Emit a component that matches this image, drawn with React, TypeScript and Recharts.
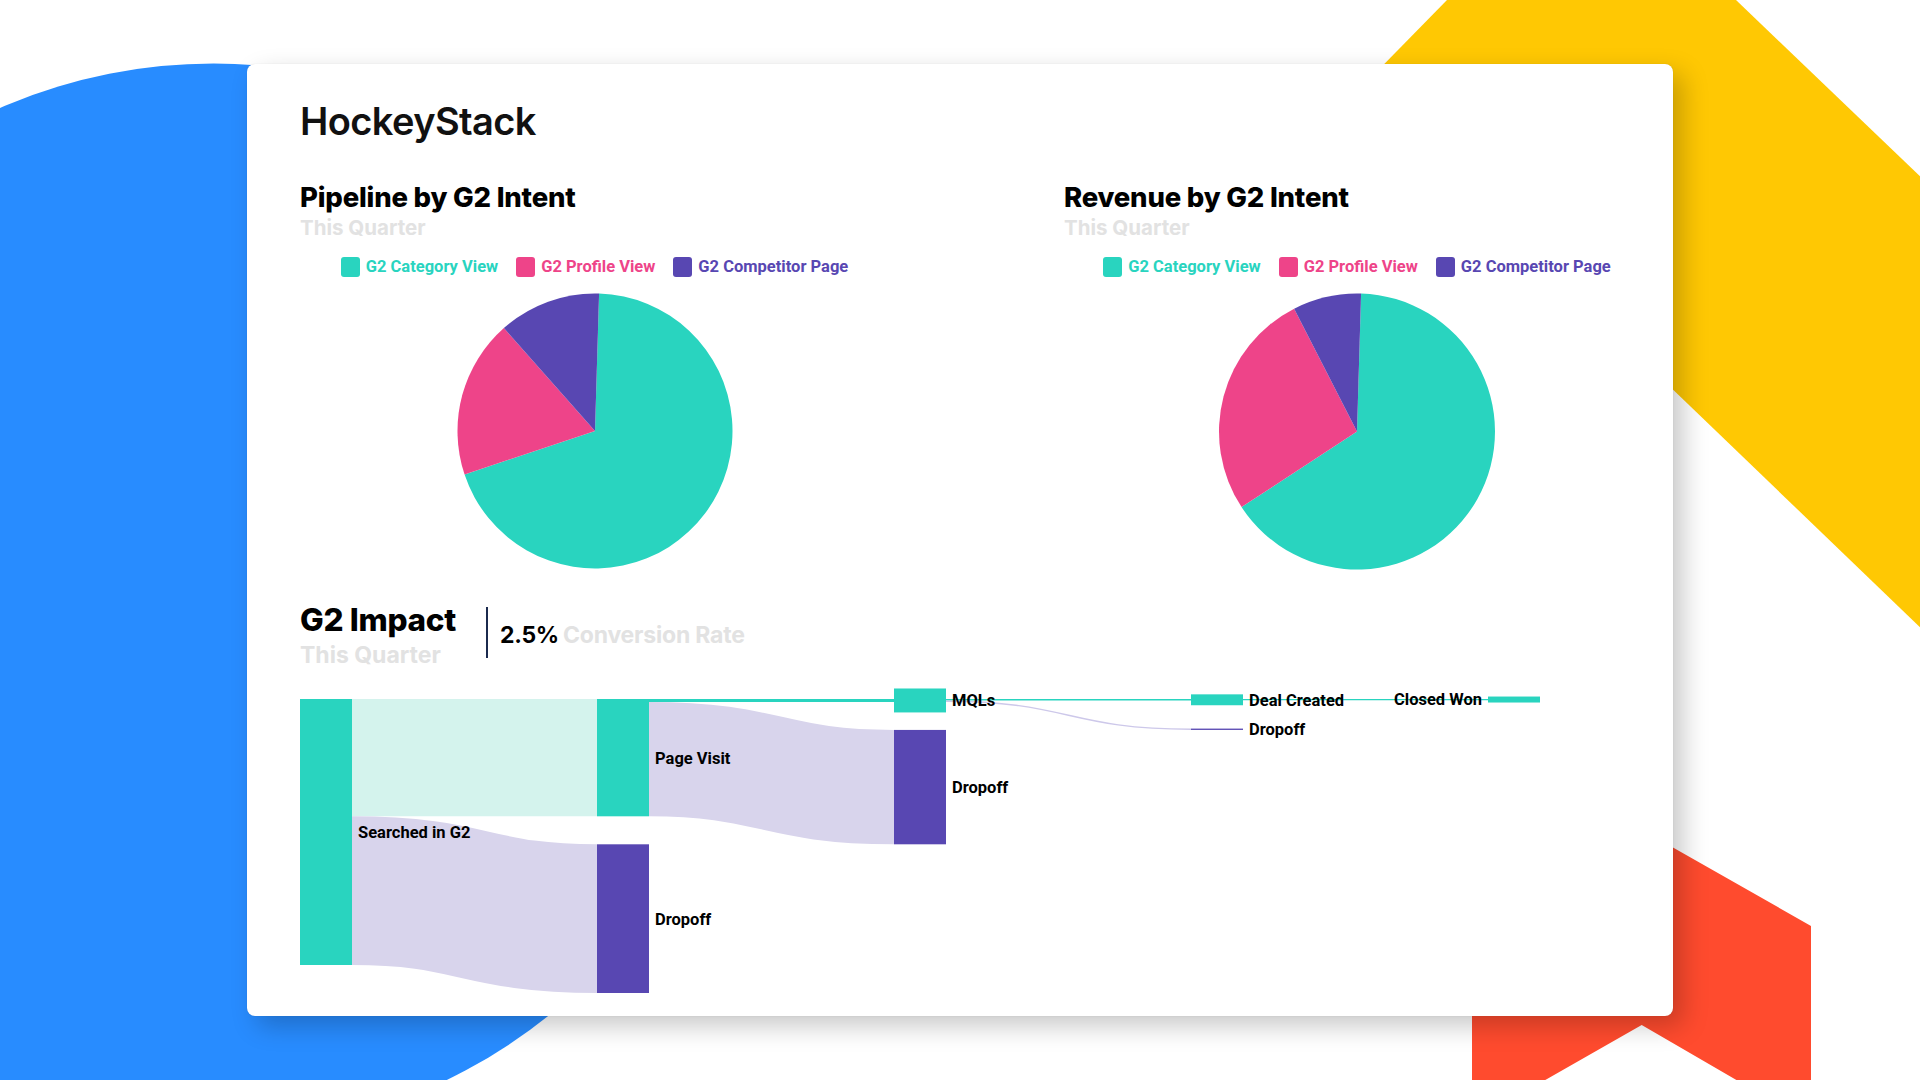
import React from 'react';
import { PieChart, Pie, Cell, Legend, Sankey } from 'recharts';

// ---------- data ----------
const PIE_CATEGORIES = ['G2 Category View', 'G2 Profile View', 'G2 Competitor Page'];
const PIPELINE_VALUES = [69.4, 18.6, 12.0];
const REVENUE_VALUES = [65.3, 26.7, 8.0];

const SANKEY_NODE_NAMES = ['Searched in G2', 'Page Visit', 'Dropoff', 'MQLs', 'Dropoff', 'Deal Created', 'Dropoff', 'Closed Won'];
// displayed node sizes (in the same units as flows)
const SANKEY_NODE_SIZES = [1000, 441, 559, 90, 430, 41, 0, 22.5];
const LINK_SOURCES = [0, 0, 1, 1, 3, 3, 5];
const LINK_TARGETS = [1, 2, 3, 4, 5, 6, 7];
const LINK_VALUES = [441, 559, 11, 430, 6, 5, 4];
const CONVERSION_RATE = '2.5%';

// ---------- styles ----------
const TEAL = '#29d4bf';
const PINK = '#ee4489';
const PURPLE = '#5847b2';
const LIGHT_TEAL = '#d4f3ed';
const LAVENDER = '#d8d4ec';
const GREY_TEXT = '#e2e2e2';
const PIE_COLORS = [TEAL, PINK, PURPLE];
const NODE_COLORS = [TEAL, TEAL, PURPLE, TEAL, PURPLE, TEAL, PURPLE, TEAL];
const LINK_COLORS = [LIGHT_TEAL, LAVENDER, TEAL, LAVENDER, TEAL, '#cdc8ea', TEAL];

const SANKEY_MARGIN = { top: 40, right: 20, bottom: 30, left: 0 };
const SANKEY_W = 1240 + SANKEY_MARGIN.left + SANKEY_MARGIN.right;
const SANKEY_H = 294 + SANKEY_MARGIN.top + SANKEY_MARGIN.bottom;

const pipelineData = PIE_CATEGORIES.map((name, i) => ({ name, value: PIPELINE_VALUES[i], fill: PIE_COLORS[i] }));
const revenueData = PIE_CATEGORIES.map((name, i) => ({ name, value: REVENUE_VALUES[i], fill: PIE_COLORS[i] }));

const sankeyData = {
  nodes: SANKEY_NODE_NAMES.map((name, i) => ({ name, size: SANKEY_NODE_SIZES[i], fill: NODE_COLORS[i] })),
  links: LINK_SOURCES.map((s, i) => ({ source: s, target: LINK_TARGETS[i], value: LINK_VALUES[i], color: LINK_COLORS[i] })),
};

const renderLegend = (props: any) => {
  const payload = [...(props.payload || [])].sort(
    (a: any, b: any) => PIE_CATEGORIES.indexOf(a.value) - PIE_CATEGORIES.indexOf(b.value)
  );
  return (
    <div style={{ display: 'flex', justifyContent: 'center', alignItems: 'center', width: '100%' }}>
      {payload.map((entry: any, i: number) => {
        const idx = PIE_CATEGORIES.indexOf(entry.value);
        const color = PIE_COLORS[idx >= 0 ? idx : i];
        return (
          <div key={i} style={{ display: 'flex', alignItems: 'center', marginLeft: i === 0 ? 0 : 18 }}>
            <div style={{ width: 19, height: 20, borderRadius: 3, background: color }} />
            <span style={{ marginLeft: 6, color, fontFamily: 'Roboto', fontWeight: 700, fontSize: 16.5, lineHeight: '20px', whiteSpace: 'nowrap' }}>
              {entry.value}
            </span>
          </div>
        );
      })}
    </div>
  );
};

function PiePanel({ left, top, cy, radius, data }: any) {
  return (
    <div style={{ position: 'absolute', left, top }}>
      <PieChart width={620} height={360} margin={{ top: 0, right: 0, bottom: 0, left: 0 }}>
        <Legend
          verticalAlign="middle"
          align="center"
          layout="horizontal"
          wrapperStyle={{ top: 17, left: 0, width: 620 }}
          content={renderLegend}
        />
        <Pie
          data={data}
          dataKey="value"
          nameKey="name"
          cx={310}
          cy={cy}
          outerRadius={radius}
          startAngle={88.3}
          endAngle={-271.7}
          stroke="none"
          isAnimationActive={false}
        >
          {data.map((d: any, i: number) => (
            <Cell key={i} fill={PIE_COLORS[i]} />
          ))}
        </Pie>
      </PieChart>
    </div>
  );
}

const renderNode = (props: any) => {
  const { x, y, width, height, index, payload } = props;
  const flow = payload && payload.value ? payload.value : 1;
  const scale = height / flow;
  const size = payload && typeof payload.size === 'number' ? payload.size : 0;
  const displayH = Math.max(height, size * scale);
  const mid = y + height / 2;
  const isLast = x + width > SANKEY_W - SANKEY_MARGIN.right - 2;
  const fill = (payload && payload.fill) || NODE_COLORS[index] || TEAL;
  return (
    <g key={`node-${index}`}>
      <rect x={x} y={mid - displayH / 2} width={width} height={displayH} fill={fill} />
      <text
        x={isLast ? x - 6 : x + width + 6}
        y={mid}
        dy="0.36em"
        textAnchor={isLast ? 'end' : 'start'}
        fontFamily="Roboto"
        fontWeight={700}
        fontSize={16.5}
        fill="#000"
      >
        {payload ? payload.name : ''}
      </text>
    </g>
  );
};

const renderLink = (props: any) => {
  const { sourceX, sourceY, sourceControlX, targetX, targetY, targetControlX, linkWidth, index, payload } = props;
  const color = (payload && payload.color) || LINK_COLORS[index] || LAVENDER;
  const w = Math.max(linkWidth, 1.3);
  return (
    <path
      key={`link-${index}`}
      d={`M${sourceX},${sourceY}C${sourceControlX},${sourceY} ${targetControlX},${targetY} ${targetX},${targetY}`}
      fill="none"
      stroke={color}
      strokeWidth={w}
    />
  );
};

export default function App() {
  const titleFont = 'Inter';
  return (
    <div style={{ position: 'absolute', left: 0, top: 0, width: 1920, height: 1080, overflow: 'hidden', background: '#fff' }}>
      {/* background decoration */}
      <svg width={1920} height={1080} style={{ position: 'absolute', left: 0, top: 0 }}>
        <circle cx={213.6} cy={598.5} r={535} fill="#288cff" />
        <polygon points="1447,0 1736,0 1920,176.3 1920,627.2 1360,88.7" fill="#ffc803" />
        <polygon points="1641.7,829.7 1811,926 1811,1080 1736.4,1080 1641.7,1025 1545.3,1080 1472,1080 1472,926.3" fill="#ff4b2e" />
      </svg>

      {/* card */}
      <div
        style={{
          position: 'absolute',
          left: 247,
          top: 64,
          width: 1426,
          height: 952,
          background: '#fff',
          borderRadius: 8,
          boxShadow: '0 0 1px rgba(0,0,0,0.18), 10px 10px 26px rgba(0,0,0,0.22)',
        }}
      />

      {/* texts */}
      <svg width={1920} height={1080} style={{ position: 'absolute', left: 0, top: 0 }}>
        <text x={300} y={135} fontFamily={titleFont} fontWeight={600} fontSize={38} letterSpacing={-0.6} fill="#111">HockeyStack</text>

        <text x={300} y={207} fontFamily={titleFont} fontWeight={800} fontSize={27.5} letterSpacing={-0.2} fill="#000">Pipeline by G2 Intent</text>
        <text x={300} y={235} fontFamily={titleFont} fontWeight={700} fontSize={20.5} fill={GREY_TEXT}>This Quarter</text>

        <text x={1064} y={207} fontFamily={titleFont} fontWeight={800} fontSize={27.5} letterSpacing={-0.2} fill="#000">Revenue by G2 Intent</text>
        <text x={1064} y={235} fontFamily={titleFont} fontWeight={700} fontSize={20.5} fill={GREY_TEXT}>This Quarter</text>

        <text x={300} y={631} fontFamily={titleFont} fontWeight={800} fontSize={31.5} letterSpacing={-0.3} fill="#000">G2 Impact</text>
        <text x={300} y={663} fontFamily={titleFont} fontWeight={700} fontSize={23} fill={GREY_TEXT}>This Quarter</text>
        <line x1={487} y1={607} x2={487} y2={658} stroke="#1b2a4e" strokeWidth={2} />
        <text x={500} y={643} fontFamily={titleFont} fontWeight={700} fontSize={23} letterSpacing={-0.3} fill="#000">{CONVERSION_RATE}</text>
        <text x={563} y={643} fontFamily={titleFont} fontWeight={700} fontSize={23} letterSpacing={-0.2} fill={GREY_TEXT}>Conversion Rate</text>
      </svg>

      <PiePanel left={284.5} top={240} cy={191} radius={137.5} data={pipelineData} />
      <PiePanel left={1047} top={240} cy={191.5} radius={138} data={revenueData} />

      <div style={{ position: 'absolute', left: 300, top: 659 }}>
        <Sankey
          width={SANKEY_W}
          height={SANKEY_H}
          data={sankeyData}
          nodeWidth={52}
          nodePadding={28}
          margin={SANKEY_MARGIN}
          iterations={0}
          sort={false}
          align="left"
          linkCurvature={0.5}
          node={renderNode}
          link={renderLink}
        />
      </div>
    </div>
  );
}
